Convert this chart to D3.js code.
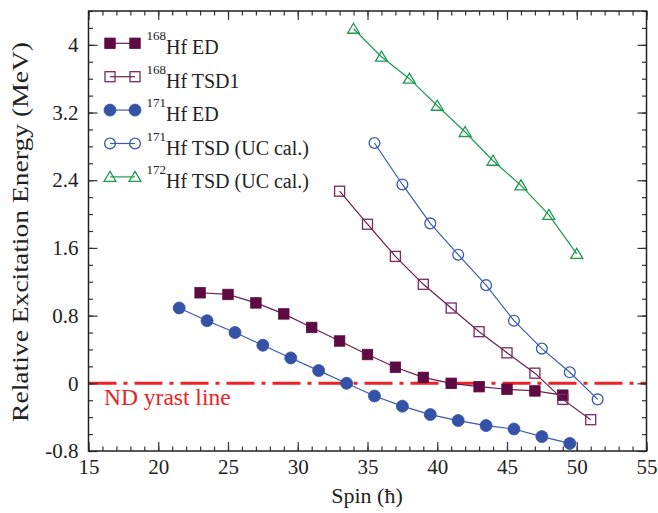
<!DOCTYPE html>
<html>
<head>
<meta charset="utf-8">
<script src="https://cdnjs.cloudflare.com/ajax/libs/d3/7.8.5/d3.min.js"></script>
<style>
  body { margin: 0; background: #fff; }
  text { font-family: "Liberation Serif", "Times New Roman", serif; }
</style>
</head>
<body>
<svg id="vimage" width="658" height="513"></svg>
<script>
//---------------------------------------- data ---------------------------------------
var hf168EdSpin = [23, 25, 27, 29, 31, 33, 35, 37, 39, 41, 43, 45, 47, 49];
var hf168EdEnergy = [1.07, 1.05, 0.95, 0.82, 0.66, 0.50, 0.34, 0.19, 0.07, 0.0, -0.04, -0.07, -0.09, -0.14];

var hf168TsdSpin = [33, 35, 37, 39, 41, 43, 45, 47, 49, 51];
var hf168TsdEnergy = [2.27, 1.88, 1.50, 1.17, 0.89, 0.61, 0.36, 0.12, -0.19, -0.43];

var hf171EdSpin = [21.5, 23.5, 25.5, 27.5, 29.5, 31.5, 33.5, 35.5, 37.5, 39.5, 41.5, 43.5, 45.5, 47.5, 49.5];
var hf171EdEnergy = [0.89, 0.74, 0.60, 0.45, 0.30, 0.15, 0.0, -0.15, -0.27, -0.37, -0.44, -0.50, -0.54, -0.63, -0.71];

var hf171TsdSpin = [35.5, 37.5, 39.5, 41.5, 43.5, 45.5, 47.5, 49.5, 51.5];
var hf171TsdEnergy = [2.84, 2.35, 1.89, 1.52, 1.16, 0.74, 0.41, 0.13, -0.19];

var hf172TsdSpin = [34, 36, 38, 40, 42, 44, 46, 48, 50];
var hf172TsdEnergy = [4.19, 3.86, 3.60, 3.28, 2.97, 2.63, 2.34, 1.99, 1.53];

var xTicks = [15, 20, 25, 30, 35, 40, 45, 50, 55];
var yTicks = [-0.8, 0, 0.8, 1.6, 2.4, 3.2, 4];
var yTickLabels = ["-0.8", "0", "0.8", "1.6", "2.4", "3.2", "4"];

var seriesNames = ["168", "168", "171", "171", "172"];
var seriesLabels = ["Hf ED", "Hf TSD1", "Hf ED", "Hf TSD (UC cal.)", "Hf TSD (UC cal.)"];

//---------------------------------------- setup ---------------------------------------
var plotLeft = 88.5, plotRight = 646.5, plotTop = 11, plotBottom = 451;

var x = d3.scaleLinear().domain([15, 55]).range([plotLeft, plotRight]);
var y = d3.scaleLinear().domain([-0.8, 4.4]).range([plotBottom, plotTop]);

var svg = d3.select("#vimage");

var series = [
    {spin: hf168EdSpin, e: hf168EdEnergy, color: "#5e0b44", line: "#6b1d52", shape: "square", filled: true},
    {spin: hf168TsdSpin, e: hf168TsdEnergy, color: "#7a2a5e", line: "#6b1d52", shape: "square", filled: false},
    {spin: hf171EdSpin, e: hf171EdEnergy, color: "#3453a6", line: "#3a5ab0", shape: "circle", filled: true},
    {spin: hf171TsdSpin, e: hf171TsdEnergy, color: "#3a5ab0", line: "#3a5ab0", shape: "circle", filled: false},
    {spin: hf172TsdSpin, e: hf172TsdEnergy, color: "#1f9a4f", line: "#1f9a4f", shape: "triangle", filled: false}
];

function drawMarker(g, s, cx, cy) {
    var m;
    if (s.shape == "square") {
        var a = s.filled ? 10.5 : 10;
        m = g.append("rect").attr("x", cx - a / 2).attr("y", cy - a / 2).attr("width", a).attr("height", a);
    } else if (s.shape == "circle") {
        m = g.append("circle").attr("cx", cx).attr("cy", cy).attr("r", s.filled ? 6 : 5.4);
    } else {
        var h = 5.5;
        m = g.append("path").attr("d", "M" + cx + "," + (cy - h) + "L" + (cx + 6) + "," + (cy + 4.5) + "L" + (cx - 6) + "," + (cy + 4.5) + "Z");
    }
    m.style("fill", s.filled ? s.color : "none")
     .style("stroke", s.color)
     .style("stroke-width", s.filled ? 0.8 : 1.3);
}

//---------------------------------------- ND yrast line ---------------------------------------
svg.append("line")
    .attr("x1", plotLeft).attr("x2", plotRight)
    .attr("y1", y(0)).attr("y2", y(0))
    .style("stroke", "#ec2227")
    .style("stroke-width", 3)
    .style("stroke-dasharray", "28,7,4,7");

svg.append("text")
    .attr("x", 104)
    .attr("y", 405)
    .text("ND yrast line")
    .style("font-size", "23.5px")
    .style("fill", "#ec2227");

//---------------------------------------- series ---------------------------------------
var line = d3.line()
    .x(function(d) { return x(d[0]); })
    .y(function(d) { return y(d[1]); });

series.forEach(function(s) {
    var pts = s.spin.map(function(v, i) { return [v, s.e[i]]; });
    svg.append("path")
        .attr("d", line(pts))
        .style("fill", "none")
        .style("stroke", s.line)
        .style("stroke-width", 1.2);
    var g = svg.append("g");
    pts.forEach(function(p) { drawMarker(g, s, x(p[0]), y(p[1])); });
});

//---------------------------------------- axes ---------------------------------------
var minorX = d3.range(15, 56, 1);
var minorY = d3.range(-8, 45, 2).map(function(v) { return v / 10; });

function styleAxis(g) {
    g.select(".domain").remove();
    g.selectAll(".tick line").style("stroke", "#333").style("stroke-width", 1.2);
    g.selectAll("text").style("font-size", "21px").style("fill", "#222")
        .style("font-family", "Liberation Serif, Times New Roman, serif");
}

svg.append("g").attr("transform", "translate(0," + plotBottom + ")")
    .call(d3.axisBottom(x).tickValues(minorX).tickSize(-4.5).tickFormat("")).call(styleAxis);
svg.append("g").attr("transform", "translate(0," + plotBottom + ")")
    .call(d3.axisBottom(x).tickValues(xTicks).tickSize(-9).tickPadding(8).tickFormat(d3.format("d"))).call(styleAxis);
svg.append("g").attr("transform", "translate(0," + plotTop + ")")
    .call(d3.axisTop(x).tickValues(minorX).tickSize(-4.5).tickFormat("")).call(styleAxis);
svg.append("g").attr("transform", "translate(0," + plotTop + ")")
    .call(d3.axisTop(x).tickValues(xTicks).tickSize(-9).tickFormat("")).call(styleAxis);

svg.append("g").attr("transform", "translate(" + plotLeft + ",0)")
    .call(d3.axisLeft(y).tickValues(minorY).tickSize(-4.5).tickFormat("")).call(styleAxis);
svg.append("g").attr("transform", "translate(" + plotLeft + ",0)")
    .call(d3.axisLeft(y).tickValues(yTicks).tickSize(-9).tickPadding(10)
        .tickFormat(function(d, i) { return yTickLabels[i]; })).call(styleAxis);
svg.append("g").attr("transform", "translate(" + plotRight + ",0)")
    .call(d3.axisRight(y).tickValues(minorY).tickSize(-4.5).tickFormat("")).call(styleAxis);
svg.append("g").attr("transform", "translate(" + plotRight + ",0)")
    .call(d3.axisRight(y).tickValues(yTicks).tickSize(-9).tickFormat("")).call(styleAxis);

svg.append("rect")
    .attr("x", plotLeft).attr("y", plotTop)
    .attr("width", plotRight - plotLeft).attr("height", plotBottom - plotTop)
    .style("fill", "none")
    .style("stroke", "#222")
    .style("stroke-width", 1.5);

svg.append("text")
    .attr("x", 367).attr("y", 503)
    .attr("text-anchor", "middle")
    .text("Spin (ħ)")
    .style("font-size", "22px")
    .style("fill", "#222");

svg.append("text")
    .attr("transform", "translate(28,232) rotate(-90)")
    .attr("text-anchor", "middle")
    .attr("textLength", 380)
    .attr("lengthAdjust", "spacingAndGlyphs")
    .text("Relative Excitation Energy (MeV)")
    .style("font-size", "23px")
    .style("fill", "#222");

//---------------------------------------- legend ---------------------------------------
series.forEach(function(s, i) {
    var ly = 43.3 + i * 33.4;
    var g = svg.append("g");
    g.append("line")
        .attr("x1", 110).attr("x2", 135)
        .attr("y1", ly).attr("y2", ly)
        .style("stroke", s.line)
        .style("stroke-width", 1.2);
    drawMarker(g, s, 110, ly);
    drawMarker(g, s, 135, ly);

    var t = g.append("text")
        .attr("x", 146.5)
        .attr("y", ly + 11)
        .style("fill", "#222");
    t.append("tspan")
        .attr("dy", -14)
        .style("font-size", "13px")
        .text(seriesNames[i]);
    t.append("tspan")
        .attr("dy", 14)
        .style("font-size", "20px")
        .text(seriesLabels[i]);
});
</script>
</body>
</html>
